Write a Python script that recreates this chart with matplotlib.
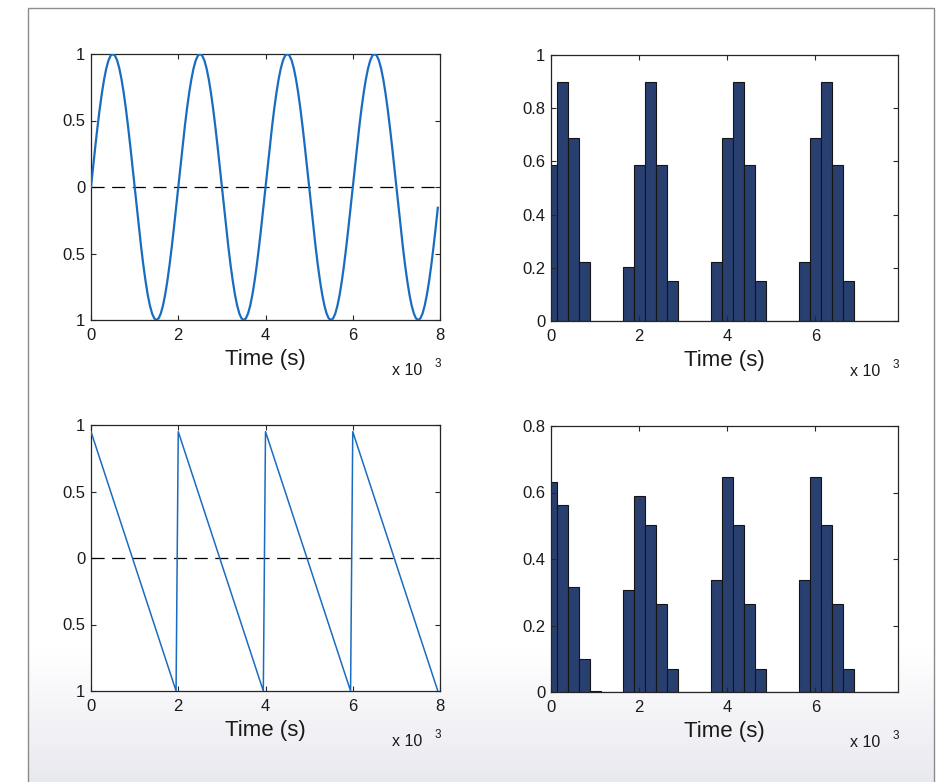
import numpy as np
import matplotlib
matplotlib.use('Agg')
import matplotlib.pyplot as plt
from matplotlib.patches import Rectangle

plt.rcParams['font.family'] = ['Liberation Sans', 'DejaVu Sans']

# --- data ---
# sample step of the waveforms (ms)
dt = 50
# one cycle (2000 ms) of the upper waveform, read every 50 ms
sine_cycle = [0.0, 0.156, 0.309, 0.454, 0.588, 0.707, 0.809, 0.891, 0.951, 0.988,
              1.0, 0.988, 0.951, 0.891, 0.809, 0.707, 0.588, 0.454, 0.309, 0.156,
              0.0, -0.156, -0.309, -0.454, -0.588, -0.707, -0.809, -0.891, -0.951, -0.988,
              -1.0, -0.988, -0.951, -0.891, -0.809, -0.707, -0.588, -0.454, -0.309, -0.156]
n_cycles = 4

# corner points of the sawtooth
saw_t = [0, 1950, 2000, 3950, 4000, 5950, 6000, 7950]
saw_y = [0.95, -1.0, 0.95, -1.0, 0.95, -1.0, 0.95, -1.0]

# histogram bins (centres, ms)
bin_centers = [0, 250, 500, 750, 1000, 1250, 1500, 1750, 2000, 2250, 2500, 2750,
               3000, 3250, 3500, 3750, 4000, 4250, 4500, 4750, 5000, 5250, 5500,
               5750, 6000, 6250, 6500, 6750, 7000, 7250, 7500, 7750]
hist_top = [0.588, 0.900, 0.687, 0.223, 0, 0, 0,
            0.202, 0.588, 0.900, 0.588, 0.152, 0, 0, 0,
            0.223, 0.687, 0.900, 0.588, 0.152, 0, 0, 0,
            0.223, 0.687, 0.900, 0.588, 0.152, 0, 0, 0, 0]
hist_bottom = [0.632, 0.562, 0.315, 0.099, 0.004, 0, 0,
               0.306, 0.590, 0.502, 0.264, 0.070, 0, 0, 0,
               0.337, 0.646, 0.502, 0.264, 0.070, 0, 0, 0,
               0.337, 0.646, 0.502, 0.264, 0.070, 0, 0, 0, 0]

wave_xticks = [0, 2000, 4000, 6000, 8000]
wave_xlabels = ['0', '2', '4', '6', '8']
wave_yticks = [-1, -0.5, 0, 0.5, 1]
wave_ylabels = ['1', '0.5', '0', '0.5', '1']
hist_xticks = [0, 2000, 4000, 6000]
hist_xlabels = ['0', '2', '4', '6']
top_hist_yticks = [0, 0.2, 0.4, 0.6, 0.8, 1]
top_hist_ylabels = ['0', '0.2', '0.4', '0.6', '0.8', '1']
bot_hist_yticks = [0, 0.2, 0.4, 0.6, 0.8]
bot_hist_ylabels = ['0', '0.2', '0.4', '0.6', '0.8']

line_color = '#1a6cc0'
bar_color = '#283f70'

W, H = 945, 782
fig = plt.figure(figsize=(W / 100, H / 100), dpi=100, facecolor='white')

# background panel: white fading to light grey at the bottom, grey frame
bg = np.ones((H, W, 3))
rows = np.arange(H)
fade = np.clip((rows - 650) / (H - 650), 0, 1)
for c, end in enumerate([0.91, 0.91, 0.94]):
    bg[:, 28:934, c] = (1 - fade * (1 - end))[:, None]
bgax = fig.add_axes([0, 0, 1, 1], zorder=-5)
bgax.imshow(bg, extent=[0, 1, 0, 1], aspect='auto', interpolation='bilinear')
bgax.axis('off')
fig.patches.append(Rectangle((28 / W, -0.05), (934 - 28) / W, 1.05 - 8 / H,
                             transform=fig.transFigure, fill=False,
                             edgecolor='#8c8c8c', linewidth=1.0))


def style(ax):
    ax.set_facecolor('white')
    for s in ax.spines.values():
        s.set_color('#262626')
        s.set_linewidth(0.9)
    ax.tick_params(direction='in', length=3.5, width=0.8, top=True, right=True,
                   labelsize=12, colors='#262626', labelcolor='#1a1a1a')
    ax.tick_params(axis='x', pad=6)
    ax.tick_params(axis='y', pad=4)
    ax.set_xlabel('Time (s)', fontsize=16, labelpad=4, color='#1a1a1a')
    ax.text(1 - 18 / 349, -0.205, 'x 10', transform=ax.transAxes, ha='right',
            va='baseline', fontsize=11.5, color='#1a1a1a')
    ax.text(1.004, -0.175, '3', transform=ax.transAxes, ha='right',
            va='baseline', fontsize=8.5, color='#1a1a1a')


axw, axh = 349 / W, 266 / H
ax1 = fig.add_axes([91 / W, 1 - 320 / H, axw, axh])
ax2 = fig.add_axes([551 / W, 1 - 321 / H, 347 / W, axh])
ax3 = fig.add_axes([91 / W, 1 - 691 / H, axw, axh])
ax4 = fig.add_axes([551 / W, 1 - 692 / H, 347 / W, axh])

# sine wave
t = np.arange(len(sine_cycle) * n_cycles) * dt
ax1.plot(t, sine_cycle * n_cycles, color=line_color, lw=1.6, zorder=3)
ax1.axhline(0, color='k', lw=0.9, ls=(0, (10.5, 6)), zorder=2)

# sawtooth
ax3.plot(saw_t, saw_y, color=line_color, lw=1.1, zorder=3)
ax3.axhline(0, color='k', lw=0.9, ls=(0, (10.5, 6)), zorder=2)

for ax in (ax1, ax3):
    ax.set_xlim(0, 8000)
    ax.set_ylim(-1, 1)
    ax.set_xticks(wave_xticks, wave_xlabels)
    ax.set_yticks(wave_yticks, wave_ylabels)
    style(ax)

ax2.bar(bin_centers, hist_top, width=250, color=bar_color, edgecolor='#151515', linewidth=0.8)
ax2.set_ylim(0, 1)
ax2.set_yticks(top_hist_yticks, top_hist_ylabels)

ax4.bar(bin_centers, hist_bottom, width=250, color=bar_color, edgecolor='#151515', linewidth=0.8)
ax4.set_ylim(0, 0.8)
ax4.set_yticks(bot_hist_yticks, bot_hist_ylabels)

for ax in (ax2, ax4):
    ax.set_xlim(0, 7875)
    ax.set_xticks(hist_xticks, hist_xlabels)
    style(ax)

fig.savefig('out.png', dpi=100, facecolor='white')
